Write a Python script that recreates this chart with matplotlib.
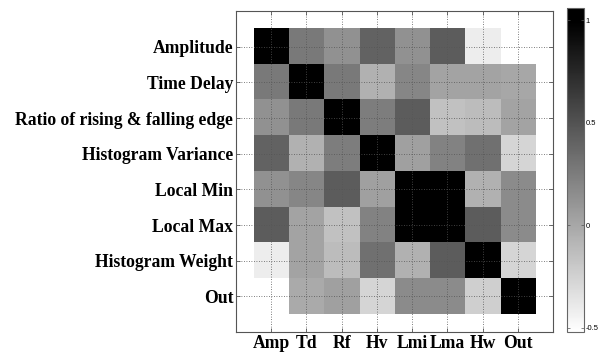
import numpy as np
import matplotlib
matplotlib.use("Agg")
import matplotlib.pyplot as plt
from matplotlib.colors import LinearSegmentedColormap

row_labels = ["Amplitude", "Time Delay", "Ratio of rising & falling edge",
              "Histogram Variance", "Local Min", "Local Max",
              "Histogram Weight", "Out"]
col_labels = ["Amp", "Td", "Rf", "Hv", "Lmi", "Lma", "Hw", "Out"]

amp = [1.00, 0.27, 0.13, 0.41, 0.13, 0.44, -0.41, -0.52]
td = [0.27, 1.00, 0.27, -0.06, 0.19, 0.02, 0.02, 0.00]
rf = [0.13, 0.27, 1.00, 0.25, 0.44, -0.15, -0.12, 0.02]
hv = [0.41, -0.06, 0.25, 1.00, 0.04, 0.22, 0.32, -0.27]
lmi = [0.13, 0.19, 0.44, 0.04, 1.00, 0.99, -0.06, 0.16]
lma = [0.44, 0.02, -0.15, 0.22, 0.99, 1.00, 0.44, 0.16]
hw = [-0.41, 0.02, -0.12, 0.32, -0.06, 0.44, 1.00, -0.27]
out = [-0.52, -0.02, 0.04, -0.27, 0.16, 0.16, -0.24, 1.00]

cbar_ticks = [-0.5, 0, 0.5, 1]
cbar_ticklabels = ["-0.5", "0", "0.5", "1"]

M = np.array([amp, td, rf, hv, lmi, lma, hw, out])
n = len(col_labels)

vmin, vmax = -0.52, 1.06
cmap = LinearSegmentedColormap.from_list(
    "grayr", [(0.0, "white"), ((0.99 - vmin) / (vmax - vmin), "black"), (1.0, "black")])

fig = plt.figure(figsize=(6.02, 3.56), dpi=100)
ax = fig.add_axes([0.392, 0.0674, 0.5266, 0.9017])
im = ax.imshow(M, cmap=cmap, vmin=vmin, vmax=vmax, interpolation="nearest",
               extent=[0.5, n + 0.5, n + 0.5, 0.5], aspect="auto", zorder=1)
ax.set_xlim(0, n + 1)
ax.set_ylim(n + 1, 0)
ticks = np.arange(1, n + 1)
ax.set_xticks(ticks)
ax.set_yticks(ticks)
fp = dict(family="Liberation Serif", weight="bold", size=12.7)
ax.set_xticklabels(col_labels, fontdict=fp)
ax.set_yticklabels(row_labels, fontdict=fp)
ax.tick_params(direction="in", length=3, width=0.6, color="#555555",
               top=True, right=True, pad=2)
ax.grid(True, linestyle=(0, (1, 2)), color="#555555", linewidth=0.6, zorder=3)
ax.set_axisbelow(False)
for s in ax.spines.values():
    s.set_color("#555555")
    s.set_linewidth(0.8)

cax = fig.add_axes([0.9419, 0.0674, 0.0282, 0.910])
cb = fig.colorbar(im, cax=cax)
cb.set_ticks(cbar_ticks)
cb.set_ticklabels(cbar_ticklabels)
cax.tick_params(direction="in", length=2, width=0.5, color="#555555",
                labelsize=5.5, pad=1, left=True, right=True)
for t in cax.get_yticklabels():
    t.set_family("Liberation Sans")
cb.outline.set_edgecolor("#666666")
cb.outline.set_linewidth(0.8)

fig.savefig("out.png", dpi=100)
